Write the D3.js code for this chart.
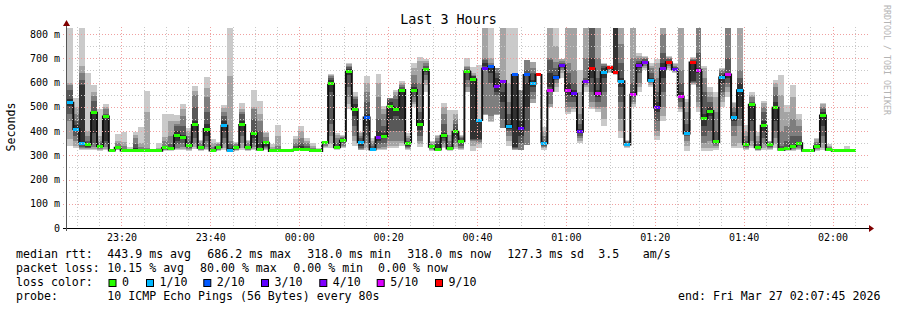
<!DOCTYPE html>
<html><head><meta charset="utf-8">
<script src="https://cdn.jsdelivr.net/npm/d3@7"></script>
<style>
body{margin:0;background:#fff}
svg{display:block}
text{font-family:"DejaVu Sans Mono",monospace;fill:#000}
</style>
</head><body><svg id="c" width="897" height="310"></svg>
<script>
// ---------------- data ----------------
const stepSeconds = 80;
const firstStep = "2026-03-26T23:07:50";
const endTime = "2026-03-27T02:07:45";
const medianMs = [517,408,350,345,475,338,460,320,331,320,319,320,320,320,319,319,330,328,381,374,339,425,331,408,320,333,422,320,333,425,333,390,324,352,
318,319,318,318,323,323,322,318,318,352,595,333,360,647,490,353,456,324,374,379,500,490,569,349,569,425,652,335,324,380,328,397,358,
645,613,445,657,664,585,606,418,631,411,631,595,631,349,566,
621,669,566,553,397,603,657,553,642,660,643,605,344,550,671,683,607,497,657,684,654,543,390,682,651,452,482,355,621,633,455,568,345,508,333,422,345,496,323,327,338,349,319,319,337,464,323,319,319,319,319];
const lossCount = [1,1,1,0,0,0,0,0,0,0,0,0,0,0,0,0,0,0,0,0,0,0,0,0,0,0,1,1,0,0,0,0,0,0,
0,0,0,0,0,0,0,0,0,0,0,0,0,0,0,1,2,1,4,0,0,0,0,0,0,0,0,0,0,0,0,0,0,
0,0,1,3,2,4,4,1,2,3,2,1,9,1,5,
2,3,5,3,3,4,9,5,1,9,9,1,1,5,4,4,1,3,4,9,3,5,1,9,5,0,0,0,1,5,1,1,0,0,0,0,0,0,0,0,0,0,0,0,0,0,0,0,0,0,0];
const pingsMs = [
[340,365,440,470,505,530,570,590,600,900],[330,340,360,380,400,425,440,470,500,535],[320,325,330,335,345,590,610,640,670,900],[322,325,328,330,333,345,360,380,400,640],
[320,325,335,350,390,480,525,545,560,590],[318,320,325,330,335,342,350,360,380,490],[320,325,335,345,360,450,470,490,500,512],[318,318,318,319,319,320,320,321,322,325],
[320,322,325,327,329,333,340,350,360,387],[318,318,319,320,320,322,325,340,355,397],[318,318,318,319,320,320,321,322,325,332],[318,319,320,322,325,330,345,370,385,394],
[318,318,319,320,320,322,325,335,350,418],[318,319,320,320,321,323,326,330,480,566],[318,318,318,319,319,319,320,320,320,321],[318,318,319,319,320,320,321,322,330,350],
[318,320,322,325,328,332,340,360,375,470],[318,320,325,330,332,335,345,380,440,470],[320,325,330,345,360,400,420,430,440,466],[320,325,335,350,365,385,420,460,490,511],
[318,320,325,330,335,345,360,380,400,411],[325,335,345,370,400,440,500,550,565,585],[318,320,322,325,328,333,340,350,358,363],[320,325,335,360,380,430,480,540,576,624],
[318,318,319,320,320,322,325,335,350,365],[318,320,322,325,328,335,340,345,350,356],[322,330,345,370,400,440,460,480,495,507],[318,318,319,320,322,330,345,360,627,900],
[318,320,322,325,330,335,340,345,350,355],[320,330,350,380,400,440,470,480,490,514],[318,320,322,325,328,335,340,350,358,363],[320,325,335,350,370,400,450,490,500,569],
[320,322,325,330,335,345,400,440,470,524],[320,325,330,335,340,345,360,375,390,397],
[318,318,319,320,320,321,322,325,335,345],[318,318,319,320,320,322,325,340,380,425],[318,318,318,319,319,320,320,321,322,325],[318,318,318,319,319,320,320,321,322,326],
[318,319,320,322,325,330,340,350,365,379],[318,320,322,325,330,340,350,370,400,422],[318,319,320,322,325,330,340,350,360,372],[318,318,319,320,320,322,325,330,340,350],
[318,318,318,319,319,320,320,322,325,330],[330,335,340,345,350,353,355,356,356,357],[330,345,380,430,560,610,620,625,630,635],[320,325,330,332,335,340,350,370,385,393],
[330,335,340,350,355,365,370,375,380,383],[490,510,540,580,630,655,665,670,675,680],[340,360,380,420,460,510,530,540,545,562],[320,322,325,330,340,360,370,380,390,395],
[320,330,350,380,420,470,520,560,600,627],[318,319,320,322,325,330,340,350,360,370],[320,325,330,345,360,400,450,540,600,635],[320,325,335,350,370,390,420,470,490,503],
[330,340,360,400,450,520,530,535,537,538],[330,340,360,400,460,500,530,550,560,569],[340,350,360,400,450,560,580,590,600,606],[320,325,330,335,340,350,360,370,380,390],
[500,510,520,540,560,580,600,630,660,680],[335,345,360,380,405,445,480,600,690,705],[560,590,610,630,645,660,670,680,690,697],[318,320,325,330,333,338,342,348,355,360],
[318,320,322,325,328,345,360,370,378,383],[330,335,345,360,370,390,430,470,500,515],[318,320,322,325,328,332,340,360,385,486],[325,335,350,365,380,410,430,450,470,487],
[320,325,330,340,350,362,370,375,380,385],
[560,562,580,610,640,650,655,665,670,700],[318,340,360,363,365,625,628,631,640,665],[330,345,355,363,366,438,440,445,450,672],[466,466,470,658,670,680,693,700,900,900],
[438,440,460,600,640,660,670,680,700,900],[466,466,470,548,560,620,640,658,660,660],[411,411,411,450,520,560,600,606,900,900],[340,360,380,400,410,430,470,521,600,825],
[321,322,325,330,335,628,630,631,632,900],[321,321,321,350,380,440,500,569,569,569],[342,342,342,400,500,600,650,693,693,693],[514,514,530,560,580,610,640,660,686,686],
[631,631,631,631,631,631,631,631,631,631],[321,330,335,340,345,352,360,380,400,418],[500,500,510,562,580,640,693,700,900,900],
[560,580,600,610,620,630,660,686,750,900],[620,640,650,660,665,672,680,690,695,697],[470,480,500,520,550,600,640,680,823,900],[480,490,500,520,540,570,600,650,823,900],
[350,360,370,380,390,410,430,470,560,650],[560,580,590,600,602,605,620,700,900,900],[490,500,520,560,620,700,823,900,900,900],[480,490,500,520,540,570,620,700,823,900],
[420,450,500,560,620,660,670,675,678,679],[640,645,650,655,658,662,665,668,670,672],[630,635,640,642,645,900,900,900,900,900],[370,400,450,520,580,620,680,760,823,900],
[330,335,338,340,342,348,355,358,360,362],[500,510,520,540,548,560,600,700,823,900],[560,580,600,640,660,680,690,700,710,720],[650,660,670,678,682,690,695,700,705,710],
[580,590,600,605,608,620,640,660,670,680],[363,380,400,440,480,520,560,620,680,695],[440,460,500,560,620,680,720,800,900,900],[650,660,670,678,682,690,695,700,705,710],
[640,645,648,650,653,660,665,670,675,680],[480,490,500,520,540,560,600,650,823,900],[318,340,360,380,390,400,430,480,520,532],[590,595,600,603,605,690,693,695,700,705],
[480,500,520,580,640,660,720,823,900,900],[318,330,350,380,420,470,560,620,660,668],[318,330,360,400,460,500,520,540,560,580],[320,330,340,345,350,360,400,480,540,562],
[500,520,540,560,600,630,640,650,655,658],[540,560,580,600,620,640,700,823,900,900],[330,340,380,420,440,460,480,500,515,521],[330,350,420,450,500,600,620,650,823,900],
[320,325,330,335,340,350,360,380,400,425],[330,340,360,400,440,510,520,540,550,562],[318,320,322,325,328,335,345,360,380,397],[320,330,345,370,400,440,480,500,515,524],
[320,325,330,335,340,348,352,355,357,358],[330,345,370,400,440,520,550,580,600,610],[318,319,320,321,322,324,340,400,550,631],[318,320,322,325,326,330,360,420,480,507],
[318,320,325,330,335,342,380,450,540,590],[320,325,330,340,345,352,380,420,450,469],[318,318,318,318,319,319,319,320,320,320],[318,318,318,318,319,319,319,320,320,320],
[318,320,325,330,335,340,345,355,365,370],[320,330,350,380,420,480,490,500,510,514],[318,319,320,321,322,325,330,335,340,345],[318,318,318,318,319,319,319,320,320,321],
[318,318,318,318,319,319,319,320,320,320],[318,318,318,319,319,319,320,320,325,338],[318,318,318,318,319,319,319,320,320,320]
];
const yTicks = [0,100,200,300,400,500,600,700,800];
const yTickLabels = ["0","100 m","200 m","300 m","400 m","500 m","600 m","700 m","800 m"];
const xTickLabels = ["23:20","23:40","00:00","00:20","00:40","01:00","01:20","01:40","02:00"];
const xTickDates = ["2026-03-26T23:20:00","2026-03-26T23:40:00","2026-03-27T00:00:00","2026-03-27T00:20:00","2026-03-27T00:40:00","2026-03-27T01:00:00","2026-03-27T01:20:00","2026-03-27T01:40:00","2026-03-27T02:00:00"];
const lossLevels = [0,1,2,3,4,5,9];
const lossLabels = ["0","1/10","2/10","3/10","4/10","5/10","9/10"];
const lossColors = ["#26ff00","#00b8ff","#0059ff","#5e00ff","#7e00ff","#dd00ff","#ff0000"];
const smokeShades = ["#cacaca","#a4a4a4","#7e7e7e","#585858","#323232"];
const legendRows = [
  [["median rtt:",16],["443.9 ms avg",107.3],["686.2 ms max",207.3],["318.0 ms min",307.3],["318.0 ms now",407.3],["127.3 ms sd",507.3],["3.5",598.3],["am/s",642.7]],
  [["packet loss:",16],["10.15 % avg",107.3],["80.00 % max",200],["0.00 % min",293.3],["0.00 % now",378]],
  [["loss color:",16]],
  [["probe:",16],["10 ICMP Echo Pings (56 Bytes) every 80s",107.3],["end: Fri Mar 27 02:07:45 2026",678]]
];
const lossLegendX = [108.5,146,203.3,261,319.3,376.7,435];

// ---------------- drawing ----------------
const parse = d3.timeParse("%Y-%m-%dT%H:%M:%S");
const tEnd = parse(endTime);
const tStart = new Date(tEnd.getTime() - 3*3600*1000);
const t0 = parse(firstStep);
const stepTime = i => new Date(t0.getTime() + i*stepSeconds*1000);

const L = 67, R = 867, T = 28, B = 228;
const x = d3.scaleTime().domain([tStart, tEnd]).range([L, R]);
const y = d3.scaleLinear().domain([0, 800*(B-T)/194]).range([B, T]);

const svg = d3.select("#c");
svg.append("rect").attr("width",897).attr("height",310).attr("fill","#fff");
svg.append("defs").append("clipPath").attr("id","pc")
  .append("rect").attr("x",L).attr("y",T).attr("width",R-L).attr("height",B-T);

const plot = svg.append("g").attr("clip-path","url(#pc)");

// smoke
pingsMs.forEach((p,k)=>{
  const xa = x(stepTime(k)), xb = x(stepTime(k+1));
  for(let i=0;i<5;i++){
    const lo = p[i], hi = p[9-i];
    plot.append("rect").attr("x",xa).attr("width",xb-xa)
      .attr("y",y(hi)).attr("height",Math.max(0,y(lo)-y(hi)))
      .attr("fill",smokeShades[i]).attr("shape-rendering","crispEdges");
  }
});

// median step line
const medPts = medianMs.map((m,k)=>[stepTime(k),m]);
medPts.push([stepTime(medianMs.length), medianMs[medianMs.length-1]]);
plot.append("path").datum(medPts)
  .attr("d", d3.line().x(d=>x(d[0])).y(d=>y(d[1])).curve(d3.curveStepAfter))
  .attr("fill","none").attr("stroke","#111").attr("stroke-width",2);

// loss-coloured median markers
const lossColor = l => { let c = lossColors[0]; lossLevels.forEach((lv,i)=>{ if(l>=lv) c = lossColors[i]; }); return c; };
medianMs.forEach((m,k)=>{
  const xa = x(stepTime(k)), xb = x(stepTime(k+1));
  plot.append("rect").attr("x",xa).attr("width",xb-xa)
    .attr("y",y(m)-1.5).attr("height",3).attr("fill",lossColor(lossCount[k]))
    .attr("shape-rendering","crispEdges");
});

// grid
const grid = svg.append("g");
const minorY = d3.range(50, 801, 100);
minorY.forEach(v=>grid.append("line").attr("x1",63).attr("x2",868).attr("y1",Math.round(y(v))+0.5).attr("y2",Math.round(y(v))+0.5)
  .attr("stroke","#c8c8c8").attr("stroke-dasharray","1,2"));
yTicks.slice(1).forEach(v=>grid.append("line").attr("x1",63).attr("x2",868).attr("y1",Math.round(y(v))+0.5).attr("y2",Math.round(y(v))+0.5)
  .attr("stroke","#f0a0a0").attr("stroke-dasharray","1,2"));
const majorDates = xTickDates.map(parse);
x.ticks(d3.timeMinute.every(5)).forEach(t=>{
  const isMajor = majorDates.some(d=>+d===+t);
  grid.append("line").attr("x1",Math.round(x(t))+0.5).attr("x2",Math.round(x(t))+0.5).attr("y1",27).attr("y2",isMajor?231:228)
    .attr("stroke",isMajor?"#f0a0a0":"#c8c8c8").attr("stroke-dasharray","1,2");
});

// axes lines + arrows
svg.append("line").attr("x1",63).attr("x2",869).attr("y1",228.5).attr("y2",228.5).attr("stroke","#000");
svg.append("line").attr("x1",66.5).attr("x2",66.5).attr("y1",231).attr("y2",24).attr("stroke","#555");
svg.append("path").attr("d","M869,225 L874,228.5 L869,232 Z").attr("fill","#800000");
svg.append("path").attr("d","M63,26 L66.5,20 L70,26 Z").attr("fill","#800000");

// axis labels via d3 axes
const ya = svg.append("g").attr("transform","translate(66,0)")
  .call(d3.axisLeft(y).tickValues(yTicks).tickFormat((d,i)=>yTickLabels[i]).tickSize(0).tickPadding(6));
const xa = svg.append("g").attr("transform",`translate(0,${B})`)
  .call(d3.axisBottom(x).tickValues(majorDates).tickFormat((d,i)=>xTickLabels[i]).tickSize(0).tickPadding(6));
[ya,xa].forEach(g=>{ g.select(".domain").remove(); g.selectAll("text").attr("font-family","DejaVu Sans Mono").attr("font-size","10px").attr("fill","#000"); });

// title and side texts
svg.append("text").attr("x",448.5).attr("y",24).attr("text-anchor","middle").attr("font-size","13.4px").text("Last 3 Hours");
svg.append("text").attr("transform","translate(15,127) rotate(-90)").attr("text-anchor","middle").attr("font-size","11.6px").text("Seconds");
svg.append("text").attr("transform","translate(884,5) rotate(90)").attr("font-size","8.3px").style("fill","#b4b4b4").text("RRDTOOL / TOBI OETIKER");

// legend
const rowY = [258,272,286,300];
legendRows.forEach((row,r)=>row.forEach(([s,xx])=>{
  svg.append("text").attr("x",xx).attr("y",rowY[r]).attr("font-size","11.6px").attr("xml:space","preserve").text(s);
}));
lossLabels.forEach((lab,i)=>{
  svg.append("rect").attr("x",lossLegendX[i]+0.5).attr("y",279.5).attr("width",7).attr("height",7)
    .attr("fill",lossColors[i]).attr("stroke","#000");
  svg.append("text").attr("x",lossLegendX[i]+13.5).attr("y",286).attr("font-size","11.6px").text(lab);
});
</script>
</body></html>
